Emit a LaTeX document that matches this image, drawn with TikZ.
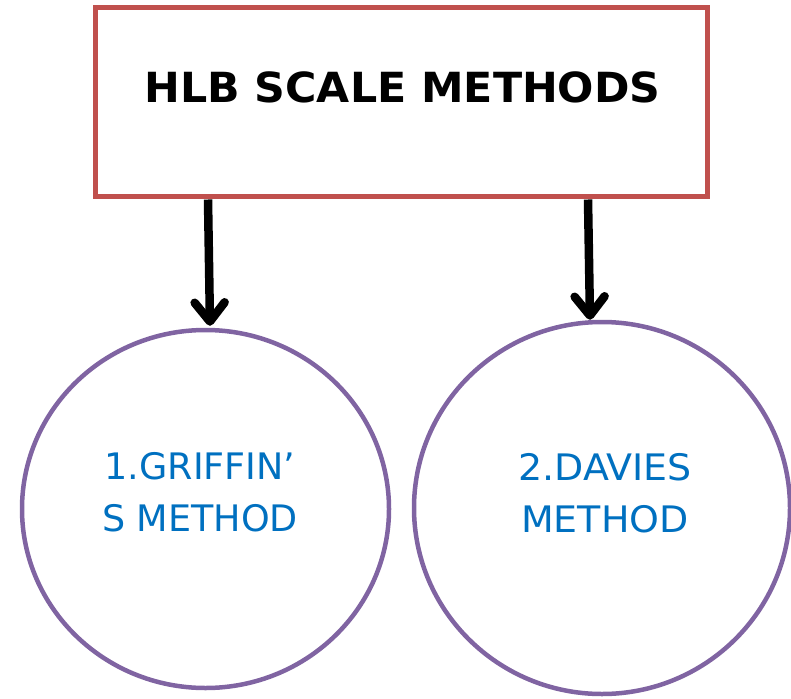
\documentclass[tikz,border=0pt]{standalone}
\usepackage{fontspec}
\usetikzlibrary{shapes.geometric,arrows.meta}
\newfontfamily\dvsans{DejaVu Sans}
\definecolor{boxred}{HTML}{C0504D}
\definecolor{circpurple}{HTML}{8064A2}
\definecolor{txtblue}{HTML}{0070C0}
\begin{document}
\begin{tikzpicture}[x=1pt,y=-1pt,
  titlebox/.style={draw=boxred,line width=5pt,rectangle,minimum width=612pt,minimum height=188pt,inner sep=0pt},
  titletxt/.style={font=\dvsans\bfseries\fontsize{41.5}{49}\selectfont,inner sep=0pt,text=black,xscale=1.03},
  methodcirc/.style={draw=circpurple,line width=4.5pt,ellipse,inner sep=0pt},
  methodtxt/.style={font=\dvsans\fontsize{36.5}{52}\selectfont,text=txtblue,align=center,inner sep=0pt},
  arr/.style={line width=8.5pt,-{Straight Barb[round,length=19pt,width=30pt]}}
]
\useasboundingbox (0,0) rectangle (791,698);
\node[titlebox] (title) at (401,102) {};
\node[titletxt] (titletext) at (402.5,87.5) {HLB SCALE METHODS};
\node[methodcirc,minimum width=367pt,minimum height=358pt] (c1) at (205.5,509) {};
\node[methodcirc,minimum width=376pt,minimum height=372pt] (c2) at (602,508) {};
\node[methodtxt] (t1) at (200,492.5) {1.GRIFFIN’\\S METHOD};
\node[methodtxt,xscale=1.04] (t2) at (605,493) {2.DAVIES\\METHOD};
\draw[arr] ([xshift=-193pt,yshift=-1pt]title.south) -- ([xshift=4.5pt,yshift=2pt]c1.north);
\draw[arr] ([xshift=187pt,yshift=-1pt]title.south) -- ([xshift=-12pt,yshift=0pt]c2.north);
\end{tikzpicture}
\end{document}
